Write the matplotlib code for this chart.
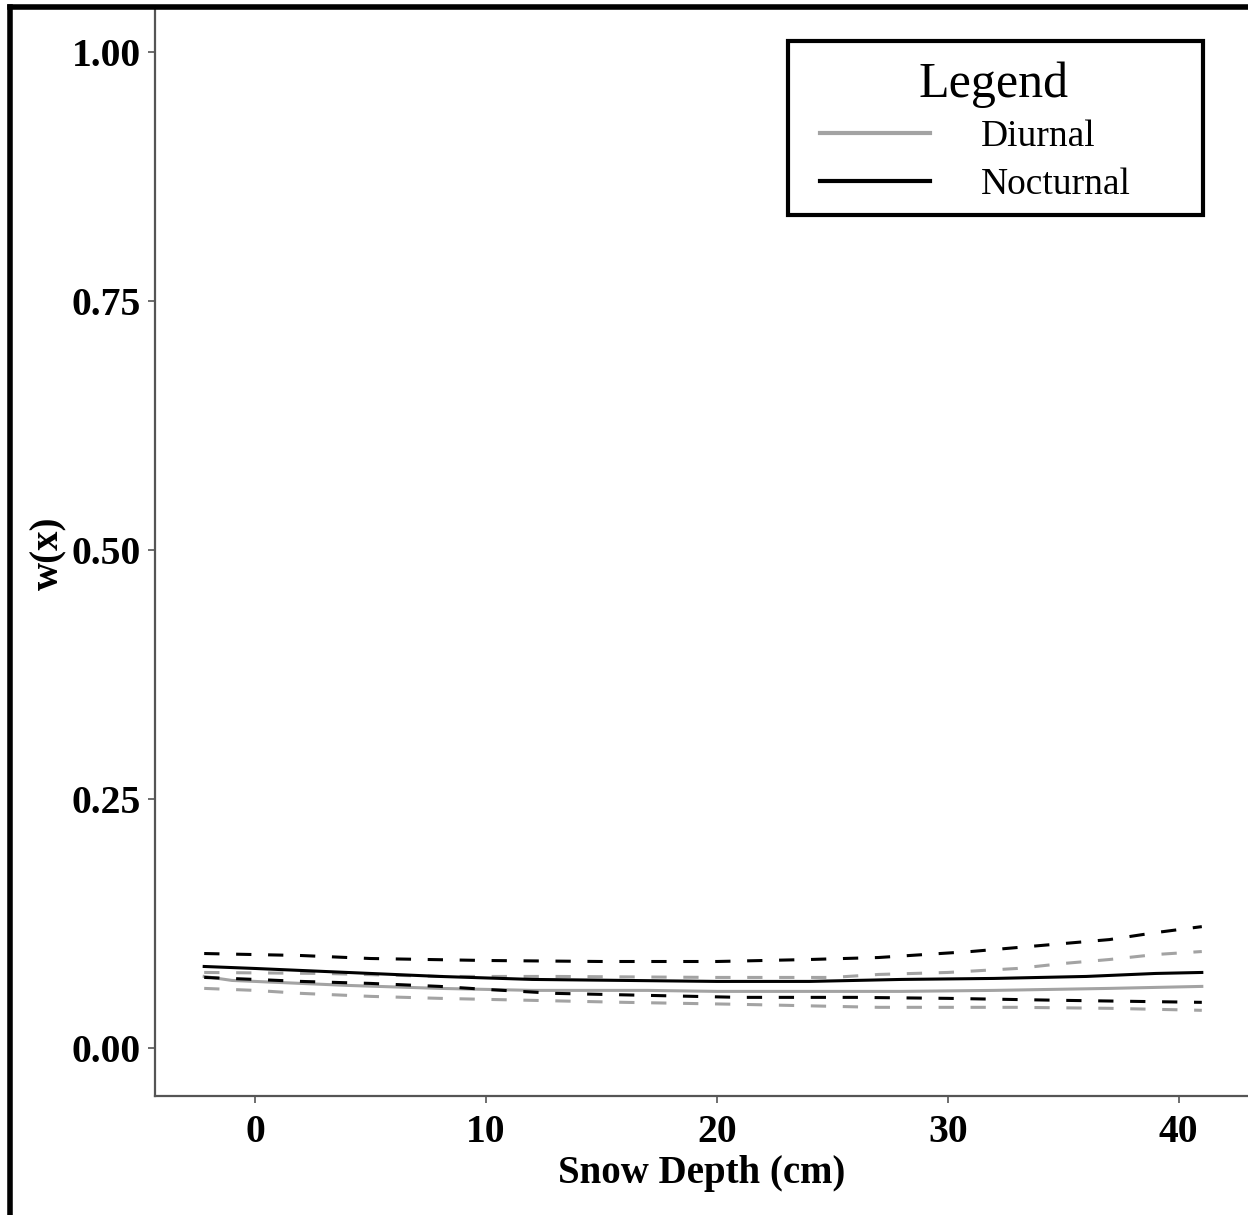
import matplotlib
matplotlib.use("Agg")
import matplotlib.pyplot as plt
from matplotlib.lines import Line2D
from matplotlib.patches import Rectangle

# values (x = snow depth in cm, y = w(x))
noc_x = [-2.2, 2, 5, 10, 15, 20, 24, 27, 29, 31, 33, 35, 37, 39, 41]
noc_hi = [0.095, 0.093, 0.090, 0.088, 0.087, 0.087, 0.089, 0.091, 0.094, 0.097, 0.101, 0.105, 0.109, 0.116, 0.122]

noc_mean_x = [-2.2, 0, 2, 5, 8, 12, 16, 20, 24, 28, 32, 36, 39, 41]
noc_mean = [0.082, 0.080, 0.078, 0.075, 0.072, 0.069, 0.068, 0.067, 0.067, 0.069, 0.070, 0.072, 0.075, 0.076]

noc_lo_x = [-2.2, 0, 2, 5, 8, 10, 13, 17, 21, 26, 30, 35, 41]
noc_lo = [0.071, 0.069, 0.067, 0.065, 0.062, 0.059, 0.055, 0.053, 0.051, 0.051, 0.050, 0.048, 0.046]

diu_mean_x = [-2.2, -1, 1, 4, 8, 12, 17, 20, 28, 32, 37, 41]
diu_mean = [0.072, 0.068, 0.066, 0.063, 0.060, 0.058, 0.058, 0.057, 0.057, 0.058, 0.060, 0.062]

diu_hi_x = [-2.2, 3, 8, 13, 20, 25, 27, 30, 33, 35, 37, 39, 41]
diu_hi = [0.076, 0.075, 0.072, 0.072, 0.071, 0.071, 0.074, 0.076, 0.080, 0.085, 0.089, 0.094, 0.097]

diu_lo_x = [-2.2, 0, 2, 5, 8, 12, 16, 21, 27, 33, 37, 41]
diu_lo = [0.060, 0.058, 0.055, 0.052, 0.050, 0.048, 0.046, 0.044, 0.041, 0.041, 0.040, 0.038]

xticks = [0, 10, 20, 30, 40]
yticks = [0.00, 0.25, 0.50, 0.75, 1.00]

W, H = 1248, 1215
GRAY = "#a3a3a3"
plt.rcParams["font.family"] = ["Liberation Serif", "DejaVu Serif"]
plt.rcParams["lines.scale_dashes"] = False
dash = (0, (11, 12))

fig = plt.figure(figsize=(W / 100, H / 100), dpi=100)
ax = fig.add_axes([155 / W, 1 - 1096 / H, 1 - 155 / W, (1096 - 10) / H])

ax.plot(diu_hi_x, diu_hi, color=GRAY, lw=2.2, ls=dash)
ax.plot(diu_lo_x, diu_lo, color=GRAY, lw=2.2, ls=dash)
ax.plot(diu_mean_x, diu_mean, color=GRAY, lw=2.2)
ax.plot(noc_x, noc_hi, color="black", lw=2.2, ls=dash)
ax.plot(noc_lo_x, noc_lo, color="black", lw=2.2, ls=dash)
ax.plot(noc_mean_x, noc_mean, color="black", lw=2.2)

ax.set_xlim(-4.33, 43.0)
ax.set_ylim(-0.048, 1.042)
ax.set_xticks(xticks)
ax.set_yticks(yticks)
ax.set_yticklabels([f"{v:.2f}" for v in yticks])
for s in ["top", "right"]:
    ax.spines[s].set_visible(False)
for s in ["left", "bottom"]:
    ax.spines[s].set_color("#555555")
    ax.spines[s].set_linewidth(1.6)
ax.tick_params(length=5, width=1.2, color="#555555", labelsize=28.5)
ax.tick_params(axis="x", pad=8)
ax.tick_params(axis="y", pad=5)
for t in ax.get_xticklabels() + ax.get_yticklabels():
    t.set_fontweight("bold")

ax.set_xlabel("Snow Depth (cm)", fontsize=28, fontweight="bold", labelpad=3)
ax.set_ylabel("w(x)", fontsize=28, fontweight="bold", labelpad=3)

# legend: frame and title drawn separately to match the reference box
fig.add_artist(Rectangle((788 / W, 1 - 215 / H), (1203 - 788) / W, (215 - 41) / H,
                         transform=fig.transFigure, fill=False, edgecolor="black", lw=3))
fig.text(994 / W, 1 - 85 / H, "Legend", fontsize=36, ha="center", va="center")
handles = [Line2D([], [], color=GRAY, lw=3), Line2D([], [], color="black", lw=3)]
leg = fig.legend(handles, ["Diurnal", "Nocturnal"], loc="upper left",
                 bbox_to_anchor=(820 / W, 1 - 120 / H), fontsize=27,
                 handlelength=2.93, handletextpad=1.35, borderpad=0,
                 labelspacing=0.36, frameon=False, borderaxespad=0)

# thick outer frame, left and top edges of the picture
fig.add_artist(Line2D([10 / W, 10 / W], [0, 1 - 7 / H], color="black", lw=4))
fig.add_artist(Line2D([10 / W, 1], [1 - 7 / H, 1 - 7 / H], color="black", lw=4))

fig.savefig("out.png", dpi=100)
